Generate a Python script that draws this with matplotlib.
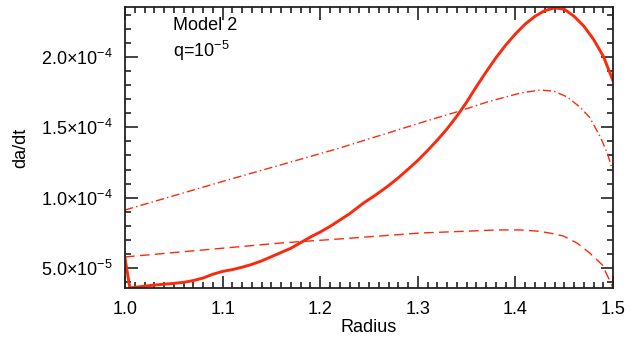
import numpy as np
import matplotlib
matplotlib.use("Agg")
import matplotlib.pyplot as plt
from matplotlib.ticker import MultipleLocator, FixedLocator, FixedFormatter

plt.rcParams['font.family'] = ['Liberation Sans', 'DejaVu Sans']
plt.rcParams['mathtext.fontset'] = 'custom'
plt.rcParams['mathtext.rm'] = 'Liberation Sans'
plt.rcParams['mathtext.it'] = 'Liberation Sans:italic'

# --- total migration rate (solid) ---
r_tot = [1.000, 1.005, 1.010, 1.020, 1.030, 1.040, 1.050, 1.060, 1.070, 1.080,
         1.090, 1.100, 1.110, 1.120, 1.130, 1.140, 1.150, 1.160, 1.170, 1.180,
         1.190, 1.200, 1.210, 1.220, 1.230, 1.244, 1.256, 1.268, 1.279, 1.289,
         1.300, 1.310, 1.320, 1.330, 1.340, 1.350, 1.360, 1.370, 1.380, 1.390,
         1.400, 1.410, 1.420, 1.430, 1.440, 1.450, 1.460, 1.470, 1.480, 1.490,
         1.500]
v_tot = [5.70e-5, 3.57e-5, 3.62e-5, 3.70e-5, 3.78e-5, 3.84e-5, 3.90e-5, 3.97e-5,
         4.10e-5, 4.28e-5, 4.55e-5, 4.75e-5, 4.88e-5, 5.05e-5, 5.25e-5, 5.50e-5,
         5.80e-5, 6.10e-5, 6.40e-5, 6.80e-5, 7.20e-5, 7.55e-5, 7.95e-5, 8.40e-5,
         8.85e-5, 9.60e-5, 1.015e-4, 1.075e-4, 1.135e-4, 1.196e-4, 1.265e-4,
         1.335e-4, 1.410e-4, 1.490e-4, 1.580e-4, 1.680e-4, 1.790e-4, 1.895e-4,
         1.995e-4, 2.085e-4, 2.165e-4, 2.235e-4, 2.290e-4, 2.330e-4, 2.350e-4,
         2.340e-4, 2.290e-4, 2.220e-4, 2.125e-4, 2.005e-4, 1.830e-4]

# --- dash-dot component ---
r_dd = [1.000, 1.100, 1.200, 1.220, 1.312, 1.340, 1.371, 1.405, 1.425, 1.439,
        1.453, 1.466, 1.476, 1.487, 1.494, 1.500]
v_dd = [9.12e-5, 1.115e-4, 1.313e-4, 1.353e-4, 1.552e-4, 1.610e-4, 1.680e-4,
        1.744e-4, 1.765e-4, 1.758e-4, 1.716e-4, 1.644e-4, 1.570e-4, 1.430e-4,
        1.317e-4, 1.182e-4]

# --- dashed component ---
r_da = [1.000, 1.100, 1.159, 1.220, 1.302, 1.353, 1.381, 1.405, 1.422, 1.435,
        1.449, 1.463, 1.476, 1.489, 1.500]
v_da = [5.78e-5, 6.40e-5, 6.77e-5, 7.06e-5, 7.48e-5, 7.62e-5, 7.70e-5, 7.70e-5,
        7.62e-5, 7.48e-5, 7.27e-5, 6.77e-5, 6.06e-5, 5.21e-5, 3.57e-5]

ytick_vals = [5.0e-5, 1.0e-4, 1.5e-4, 2.0e-4]
ytick_labels = [r'5.0$\times$10$^{-5}$', r'1.0$\times$10$^{-4}$',
                r'1.5$\times$10$^{-4}$', r'2.0$\times$10$^{-4}$']
xtick_vals = [1.0, 1.1, 1.2, 1.3, 1.4, 1.5]

red = '#fa2a0c'

fig = plt.figure(figsize=(6.4, 3.41), dpi=100)
ax = fig.add_axes([0.1953, 0.1554, 0.7627, 0.8241])

ax.plot(r_tot, v_tot, color=red, lw=2.1, solid_joinstyle='round')
ax.plot(r_dd, v_dd, color=red, lw=1.0, linestyle=(0, (6, 2.3, 1.0, 2.3)))
ax.plot(r_da, v_da, color=red, lw=1.0, linestyle=(0, (7, 3.8)))

ax.set_xlim(1.0, 1.5)
ax.set_ylim(3.57e-5, 2.356e-4)

ax.xaxis.set_major_locator(FixedLocator(xtick_vals))
ax.xaxis.set_minor_locator(MultipleLocator(0.01))
ax.set_xticklabels(['%.1f' % v for v in xtick_vals])
ax.yaxis.set_major_locator(FixedLocator(ytick_vals))
ax.yaxis.set_major_formatter(FixedFormatter(ytick_labels))
ax.yaxis.set_minor_locator(MultipleLocator(1e-5))

ax.tick_params(which='both', direction='in', top=True, right=True,
               labelsize=13, color='#222222', width=1.2)
ax.tick_params(which='major', length=9, pad=9)
ax.tick_params(which='minor', length=4.5)
for s in ax.spines.values():
    s.set_linewidth(1.3)
    s.set_color('#222222')

ax.set_xlabel('Radius', fontsize=13, labelpad=1)
ax.set_ylabel('da/dt', fontsize=13, labelpad=8)

ax.text(0.098, 0.918, 'Model 2', transform=ax.transAxes, fontsize=13,
        va='baseline', ha='left')
ax.text(0.098, 0.822, r'q=10$^{-5}$', transform=ax.transAxes, fontsize=13,
        va='baseline', ha='left')

fig.savefig('out.png', dpi=100)
